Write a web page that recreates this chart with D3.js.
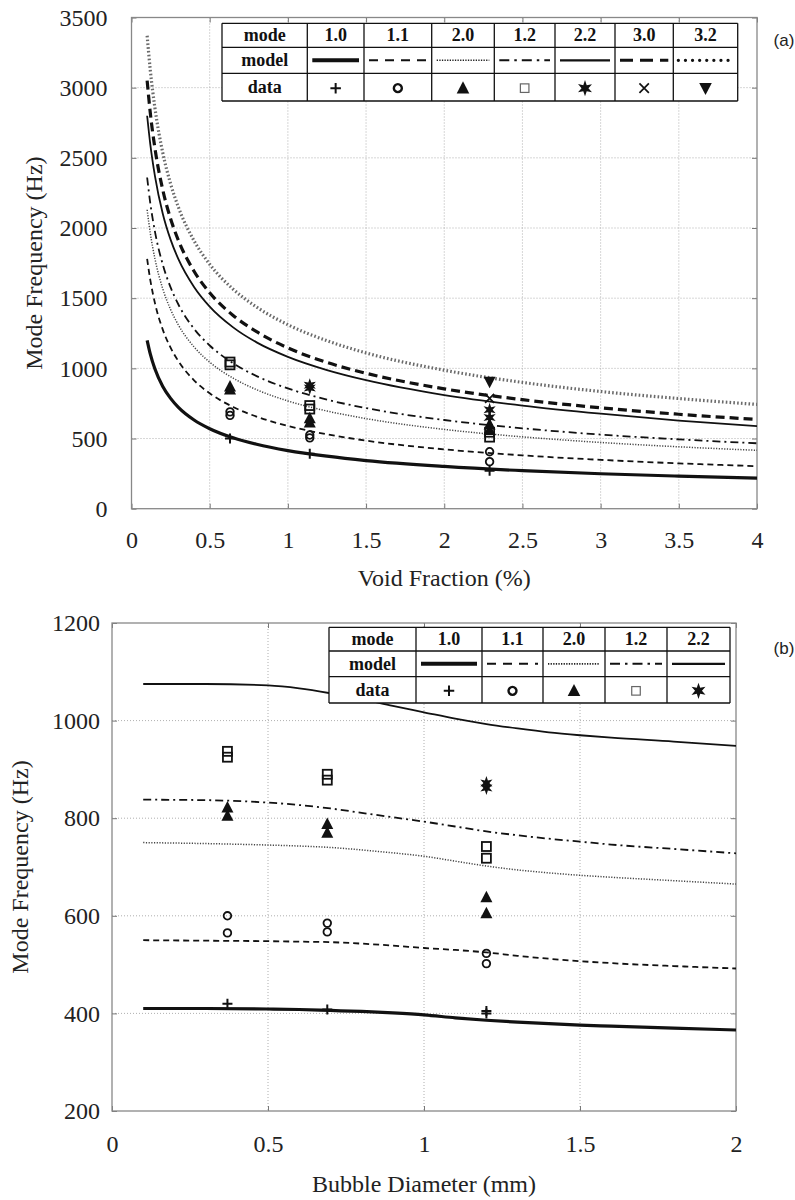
<!DOCTYPE html>
<html><head><meta charset="utf-8">
<script src="https://cdn.jsdelivr.net/npm/d3@7"></script>
<style>body{margin:0;background:#fff}</style>
</head><body>
<svg id="chart" width="795" height="1200" xmlns="http://www.w3.org/2000/svg"></svg>
<script>
// ================= DATA =================
const modeLabelsA = ["1.0","1.1","2.0","1.2","2.2","3.0","3.2"];
const modeLabelsB = ["1.0","1.1","2.0","1.2","2.2"];
const xTicksA = [0,0.5,1,1.5,2,2.5,3,3.5,4];
const yTicksA = [0,500,1000,1500,2000,2500,3000,3500];
const xTicksB = [0,0.5,1,1.5,2];
const yTicksB = [200,400,600,800,1000,1200];

// Panel (a): model curves vs void fraction (%)
const voidFraction = [0.1,0.12,0.15,0.2,0.25,0.3,0.4,0.5,0.65,0.8,1,1.25,1.5,2,2.5,3,3.5,4];
const modelA_10 = [1200,1103,995,871,786,722,632,570,505,459,414,374,343,301,271,249,232,218];
const modelA_11 = [1780,1631,1465,1276,1147,1051,915,822,725,656,590,530,485,423,380,348,323,303];
const modelA_20 = [2130,1965,1780,1567,1419,1309,1153,1044,930,848,768,696,642,565,512,472,441,416];
const modelA_12 = [2360,2178,1974,1740,1577,1455,1282,1163,1036,945,857,777,717,632,573,528,494,466];
const modelA_22 = [2800,2598,2370,2102,1917,1778,1580,1440,1292,1185,1082,988,916,810,735,677,628,588];
const modelA_30 = [3050,2822,2567,2272,2066,1912,1692,1539,1377,1261,1146,1042,965,854,777,719,673,636];
const modelA_32 = [3370,3127,2854,2536,2315,2148,1909,1742,1564,1437,1311,1197,1110,987,900,835,785,743];

// Panel (a): measured data [void fraction, frequency]
const dataA_10 = [[0.63,501],[1.14,392],[2.29,270]];
const dataA_11 = [[0.63,665],[0.63,690],[1.14,505],[1.14,525],[2.29,335],[2.29,406]];
const dataA_20 = [[0.63,850],[0.63,870],[1.14,615],[1.14,645],[2.29,560],[2.29,600]];
const dataA_12 = [[0.63,1025],[0.63,1045],[1.14,710],[1.14,735],[2.29,510],[2.29,545]];
const dataA_22 = [[1.14,860],[1.14,880],[2.29,650],[2.29,705]];
const dataA_30 = [[2.29,786]];
const dataA_32 = [[2.29,905]];

// Panel (b): model curves vs bubble diameter (mm)
const bubbleDiameter = [0.1,0.3,0.5,0.6,0.7,0.8,0.9,1.0,1.1,1.2,1.3,1.4,1.5,1.6,1.8,2.0];
const modelB_10 = [410,410,409,408,406,404,401,397,391,386,382,379,376,374,370,366];
const modelB_11 = [550,549,548,547,546,543,539,534,530,525,518,512,507,503,497,492];
const modelB_20 = [750,748,745,743,740,735,729,722,712,702,694,688,683,679,672,665];
const modelB_12 = [838,837,832,827,820,811,802,793,783,773,765,758,752,746,737,728];
const modelB_22 = [1075,1075,1072,1066,1056,1044,1030,1017,1004,993,984,976,970,965,957,948];

// Panel (b): measured data [bubble diameter, frequency]
const dataB_10 = [[0.37,420],[0.69,408],[1.2,400],[1.2,405]];
const dataB_11 = [[0.37,565],[0.37,600],[0.69,567],[0.69,585],[1.2,502],[1.2,523]];
const dataB_20 = [[0.37,805],[0.37,822],[0.69,770],[0.69,788],[1.2,605],[1.2,638]];
const dataB_12 = [[0.37,925],[0.37,937],[0.69,878],[0.69,890],[1.2,718],[1.2,742]];
const dataB_22 = [[1.2,862],[1.2,872]];

// ================= STYLES =================
const lineStyle = {
  "1.0": {w:3.2, dash:null, color:"#111"},
  "1.1": {w:1.8, dash:"6,4", color:"#111"},
  "2.0": {w:1.5, dash:"1.2,1.5", color:"#444"},
  "1.2": {w:1.8, dash:"8,4,2,4", color:"#111"},
  "2.2": {w:1.8, dash:null, color:"#111"},
  "3.0": {w:3.2, dash:"9,5", color:"#111"},
  "3.2": {w:3.2, dash:"1.6,2.2", color:"#6a6a6a"}
};
const legendLineStyle = {
  "1.0": {w:4, dash:null, color:"#111", cap:"butt"},
  "1.1": {w:2, dash:"9,7", color:"#111", cap:"butt"},
  "2.0": {w:1.6, dash:"1.3,1.3", color:"#222", cap:"butt"},
  "1.2": {w:2, dash:"10,5,2.5,5", color:"#111", cap:"butt"},
  "2.2": {w:2.2, dash:null, color:"#111", cap:"butt"},
  "3.0": {w:3, dash:"13,7", color:"#111", cap:"butt"},
  "3.2": {w:3.2, dash:"0.1,7", color:"#111", cap:"round"}
};
const markerType = {"1.0":"plus","1.1":"circle","2.0":"triUp","1.2":"square","2.2":"star","3.0":"cross","3.2":"triDown"};

const svg = d3.select("#chart");
const SERIF = "'Liberation Serif','Times New Roman',serif";
const SANS = "'Liberation Sans',Arial,sans-serif";

function starPath(R, r, n){
  let p = [];
  for (let i=0;i<2*n;i++){
    const a = -Math.PI/2 + i*Math.PI/n;
    const rad = i%2===0 ? R : r;
    p.push([rad*Math.cos(a), rad*Math.sin(a)]);
  }
  return "M"+p.map(q=>q[0].toFixed(2)+","+q[1].toFixed(2)).join("L")+"Z";
}

function drawMarker(g, type, cx, cy, s, legend){
  const k = s;
  const grp = g.append("g").attr("transform",`translate(${cx},${cy})`);
  if (type==="plus"){
    grp.append("path").attr("d",`M${-5*k},0H${5*k}M0,${-5*k}V${5*k}`).attr("stroke","#111").attr("stroke-width",2).attr("fill","none");
  } else if (type==="circle"){
    grp.append("circle").attr("r",3.8*k).attr("fill","none").attr("stroke","#111").attr("stroke-width",legend?2.4:1.8);
  } else if (type==="triUp"){
    grp.append("path").attr("d",`M0,${-6.5*k}L${6*k},${5*k}L${-6*k},${5*k}Z`).attr("fill","#111");
  } else if (type==="triDown"){
    grp.append("path").attr("d",`M0,${6.5*k}L${6*k},${-5*k}L${-6*k},${-5*k}Z`).attr("fill","#111");
  } else if (type==="square"){
    grp.append("rect").attr("x",-4.5*k).attr("y",-4.5*k).attr("width",9*k).attr("height",9*k)
      .attr("fill", "none").attr("stroke", legend?"#666":"#111").attr("stroke-width",legend?1.2:1.8);
  } else if (type==="star"){
    grp.append("path").attr("d",starPath(7*k,3*k,6)).attr("fill","#111");
  } else if (type==="cross"){
    grp.append("path").attr("d",`M${-4.5*k},${-4.5*k}L${4.5*k},${4.5*k}M${-4.5*k},${4.5*k}L${4.5*k},${-4.5*k}`).attr("stroke","#111").attr("stroke-width",1.7).attr("fill","none");
  }
}

function drawPanel(cfg){
  const {left,right,top,bottom,xDomain,yDomain,xTicks,yTicks,xTitle,yTitle,xTitleY,yTitleX,xPad,yPad,id} = cfg;
  const x = d3.scaleLinear().domain(xDomain).range([left,right]);
  const y = d3.scaleLinear().domain(yDomain).range([bottom,top]);
  const g = svg.append("g");

  // grid
  g.append("g").selectAll("line").data(xTicks.filter(t=>t>xDomain[0]&&t<xDomain[1])).join("line")
    .attr("x1",d=>x(d)).attr("x2",d=>x(d)).attr("y1",top).attr("y2",bottom)
    .attr("stroke","#9a9a9a").attr("stroke-width",0.8).attr("stroke-dasharray","1,2");
  g.append("g").selectAll("line").data(yTicks.filter(t=>t>yDomain[0]&&t<yDomain[1])).join("line")
    .attr("y1",d=>y(d)).attr("y2",d=>y(d)).attr("x1",left).attr("x2",right)
    .attr("stroke","#9a9a9a").attr("stroke-width",0.8).attr("stroke-dasharray","1,2");

  // axes
  const fmt = d=>String(d);
  const ax = g.append("g").attr("transform",`translate(0,${bottom})`)
    .call(d3.axisBottom(x).tickValues(xTicks).tickFormat(fmt).tickSize(-5).tickPadding(xPad));
  const ay = g.append("g").attr("transform",`translate(${left},0)`)
    .call(d3.axisLeft(y).tickValues(yTicks).tickFormat(fmt).tickSize(-5).tickPadding(yPad));
  const axt = g.append("g").attr("transform",`translate(0,${top})`)
    .call(d3.axisTop(x).tickValues(xTicks).tickFormat("").tickSize(-5));
  const ayr = g.append("g").attr("transform",`translate(${right},0)`)
    .call(d3.axisRight(y).tickValues(yTicks).tickFormat("").tickSize(-5));
  [ax,ay,axt,ayr].forEach(a=>{
    a.attr("font-family",null).attr("font-size",null);
    a.select(".domain").remove();
    a.selectAll(".tick line").attr("stroke","#777").attr("stroke-width",1);
    a.selectAll(".tick text").style("font-family",SERIF).style("font-size","24px").attr("fill","#222");
  });

  // frame
  g.append("rect").attr("x",left).attr("y",top).attr("width",right-left).attr("height",bottom-top)
    .attr("fill","none").attr("stroke","#888").attr("stroke-width",1.3);

  // titles
  g.append("text").attr("x",(left+right)/2).attr("y",xTitleY).attr("text-anchor","middle")
    .style("font-family",SERIF).style("font-size","24px").attr("fill","#222").text(xTitle);
  g.append("text").attr("transform",`translate(${yTitleX},${(top+bottom)/2}) rotate(-90)`)
    .attr("text-anchor","middle").style("font-family",SERIF).style("font-size","24px").attr("fill","#222").text(yTitle);

  // clip
  svg.append("clipPath").attr("id","clip"+id).append("rect")
    .attr("x",left).attr("y",top).attr("width",right-left).attr("height",bottom-top);
  const plot = g.append("g").attr("clip-path",`url(#clip${id})`);

  // model curves
  cfg.models.forEach(m=>{
    const st = lineStyle[m.mode];
    const line = d3.line().x((d,i)=>x(cfg.xGrid[i])).y(d=>y(d)).curve(d3.curveMonotoneX);
    plot.append("path").datum(m.values).attr("d",line).attr("fill","none")
      .attr("stroke",st.color).attr("stroke-width",st.w)
      .attr("stroke-dasharray",st.dash);
  });
  // data
  cfg.data.forEach(dset=>{
    dset.points.forEach(p=>drawMarker(plot, markerType[dset.mode], x(p[0]), y(p[1]), 1, false));
  });
  return {x,y,g};
}

function drawLegend(cols, rows, modes){
  const g = svg.append("g");
  const L = cols[0], R = cols[cols.length-1], T = rows[0], B = rows[rows.length-1];
  g.append("rect").attr("x",L).attr("y",T).attr("width",R-L).attr("height",B-T).attr("fill","#fff");
  rows.forEach(r=>g.append("line").attr("x1",L).attr("x2",R).attr("y1",r).attr("y2",r).attr("stroke","#111").attr("stroke-width",1.3));
  cols.forEach(c=>g.append("line").attr("x1",c).attr("x2",c).attr("y1",T).attr("y2",B).attr("stroke","#111").attr("stroke-width",1.3));
  const rowLabels = ["mode","model","data"];
  rowLabels.forEach((t,i)=>{
    g.append("text").attr("x",(cols[0]+cols[1])/2).attr("y",(rows[i]+rows[i+1])/2+6)
      .attr("text-anchor","middle").style("font-family",SERIF).style("font-weight","bold").style("font-size","18px").attr("fill","#111").text(t);
  });
  modes.forEach((m,j)=>{
    const c0 = cols[j+1], c1 = cols[j+2], cx = (c0+c1)/2;
    g.append("text").attr("x",cx).attr("y",(rows[0]+rows[1])/2+6).attr("text-anchor","middle")
      .style("font-family",SERIF).style("font-weight","bold").style("font-size","18px").attr("fill","#111").text(m);
    const st = legendLineStyle[m];
    const my = (rows[1]+rows[2])/2;
    g.append("line").attr("x1",c0+5).attr("x2",c1-5).attr("y1",my).attr("y2",my)
      .attr("stroke",st.color).attr("stroke-width",st.w).attr("stroke-dasharray",st.dash).attr("stroke-linecap",st.cap);
    drawMarker(g, markerType[m], cx, (rows[2]+rows[3])/2+1, m==="2.2"?1.15:(m==="1.2"?0.95:1.05), true);
  });
}

// ================= PANEL (a) =================
drawPanel({
  id:"A", left:131.5, right:757, top:17.5, bottom:508.7,
  xDomain:[0,4], yDomain:[0,3500], xTicks:xTicksA, yTicks:yTicksA,
  xTitle:"Void Fraction (%)", yTitle:"Mode Frequency (Hz)", xTitleY:586, yTitleX:42, xPad:22, yPad:24,
  xGrid: voidFraction,
  models:[
    {mode:"3.2",values:modelA_32},{mode:"3.0",values:modelA_30},{mode:"2.2",values:modelA_22},
    {mode:"1.2",values:modelA_12},{mode:"2.0",values:modelA_20},{mode:"1.1",values:modelA_11},
    {mode:"1.0",values:modelA_10}
  ],
  data:[
    {mode:"1.0",points:dataA_10},{mode:"1.1",points:dataA_11},{mode:"2.0",points:dataA_20},
    {mode:"1.2",points:dataA_12},{mode:"2.2",points:dataA_22},{mode:"3.0",points:dataA_30},
    {mode:"3.2",points:dataA_32}
  ]
});
drawLegend([222,307.3,364,431.7,494.3,555,615,673.3,737.7],[23.3,47.3,73.3,101],modeLabelsA);

// ================= PANEL (b) =================
drawPanel({
  id:"B", left:112, right:736, top:623, bottom:1111,
  xDomain:[0,2], yDomain:[200,1200], xTicks:xTicksB, yTicks:yTicksB,
  xTitle:"Bubble Diameter (mm)", yTitle:"Mode Frequency (Hz)", xTitleY:1192, yTitleX:28, xPad:24, yPad:12,
  xGrid: bubbleDiameter,
  models:[
    {mode:"2.2",values:modelB_22},{mode:"1.2",values:modelB_12},{mode:"2.0",values:modelB_20},
    {mode:"1.1",values:modelB_11},{mode:"1.0",values:modelB_10}
  ],
  data:[
    {mode:"1.0",points:dataB_10},{mode:"1.1",points:dataB_11},{mode:"2.0",points:dataB_20},
    {mode:"1.2",points:dataB_12},{mode:"2.2",points:dataB_22}
  ]
});
drawLegend([329,416,482,543,605,667,730],[627.3,651,676.7,703],modeLabelsB);

// panel labels
svg.append("text").attr("x",784).attr("y",46).attr("text-anchor","middle").style("font-family",SANS).style("font-size","17px").attr("fill","#222").text("(a)");
svg.append("text").attr("x",784).attr("y",654).attr("text-anchor","middle").style("font-family",SANS).style("font-size","17px").attr("fill","#222").text("(b)");
</script>
</body></html>
